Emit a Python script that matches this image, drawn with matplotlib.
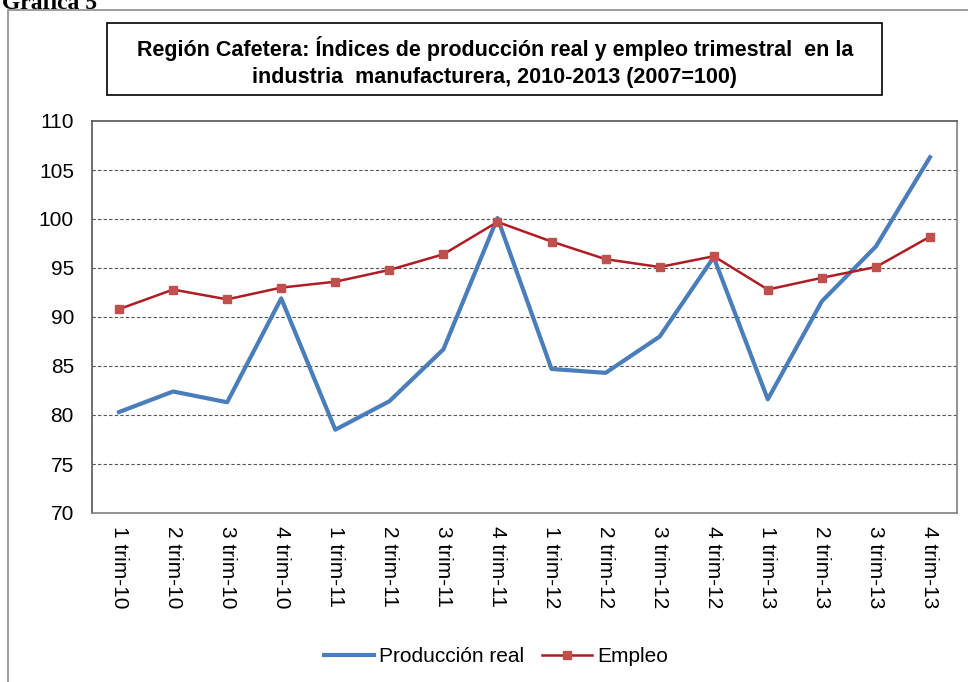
import numpy as np
import matplotlib.pyplot as plt
from matplotlib.patches import Rectangle

plt.rcParams['font.family'] = ['Liberation Sans', 'DejaVu Sans']

trimestres = ['1 trim-10', '2 trim-10', '3 trim-10', '4 trim-10',
              '1 trim-11', '2 trim-11', '3 trim-11', '4 trim-11',
              '1 trim-12', '2 trim-12', '3 trim-12', '4 trim-12',
              '1 trim-13', '2 trim-13', '3 trim-13', '4 trim-13']
produccion = [80.3, 82.4, 81.3, 91.9, 78.5, 81.4, 86.7, 100.1,
              84.7, 84.3, 88.0, 96.1, 81.6, 91.6, 97.2, 106.3]
empleo = [90.8, 92.8, 91.8, 93.0, 93.6, 94.8, 96.4, 99.7,
          97.7, 95.9, 95.1, 96.2, 92.8, 94.0, 95.1, 98.2]

W, H = 968, 682
fig = plt.figure(figsize=(W / 100, H / 100), dpi=100)

# marco exterior del grafico
fig.patches.append(Rectangle((8 / W, -0.05), 1.0, 1 - 10 / H + 0.05,
                             transform=fig.transFigure, fill=False,
                             edgecolor='#8c8c8c', lw=1.2))
fig.text(2 / W, 1 - 9 / H, 'Gráfica 5', family='Liberation Serif',
         fontsize=17, fontweight='bold', va='baseline', ha='left')

# titulo en recuadro
fig.patches.append(Rectangle((107 / W, 1 - 95 / H), 775 / W, 72 / H,
                             transform=fig.transFigure, fill=False,
                             edgecolor='black', lw=1.2))
fig.text(495 / W, 1 - 62 / H,
         'Región Cafetera: Índices de producción real y empleo trimestral  en la\n'
         'industria  manufacturera, 2010-2013 (2007=100)',
         ha='center', va='center', fontsize=15.5, fontweight='bold',
         linespacing=1.35)

ax = fig.add_axes([92 / W, 1 - 513 / H, 865 / W, 392 / H])
x = np.arange(len(trimestres))
ax.plot(x, produccion, color='#4a7ebb', lw=3, label='Producción real')
ax.plot(x, empleo, color='#b01c24', lw=1.8, marker='s', markersize=5.5,
        markerfacecolor='#c0504d', markeredgecolor='#c0504d', label='Empleo')

ax.set_xlim(-0.5, len(trimestres) - 0.5)
ax.set_ylim(70, 110)
ax.set_yticks(np.arange(70, 111, 5))
ax.set_xticks(x)
ax.set_xticklabels(trimestres, rotation=270, fontsize=15)
ax.tick_params(axis='y', labelsize=15, length=0, pad=13)
ax.tick_params(axis='x', length=0, pad=9)
for y in range(75, 110, 5):
    ax.axhline(y, color='#555555', lw=0.8, ls=(0, (3, 2)), zorder=0)
for s in ax.spines.values():
    s.set_color('#808080')
    s.set_linewidth(1.2)
ax.spines['left'].set_color('#555555')
ax.spines['top'].set_color('#555555')

leg = fig.legend(loc='center', bbox_to_anchor=(496 / W, 1 - 657 / H), ncol=2,
                 frameon=False, fontsize=15, handlelength=2.4, columnspacing=0.85,
                 handletextpad=0.25)

fig.savefig('out.png', dpi=100)
